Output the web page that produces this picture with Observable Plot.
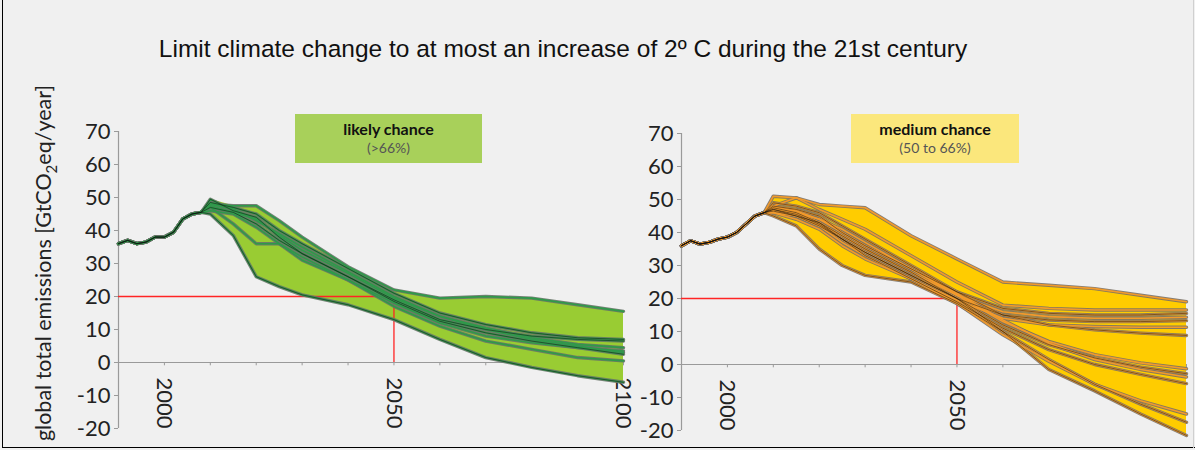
<!DOCTYPE html>
<html><head><meta charset="utf-8">
<script src="https://cdn.jsdelivr.net/npm/d3@7"></script>
<script src="https://cdn.jsdelivr.net/npm/@observablehq/plot@0.6"></script>
<style>
html,body{margin:0;padding:0;background:#f0f0f0;}
#wrap{position:relative;width:1195px;height:450px;background:#f0f0f0;overflow:hidden;}
#frameL{position:absolute;left:2px;top:0;width:1px;height:448px;background:#000;}
#frameB{position:absolute;left:2px;top:447px;width:1193px;height:1px;background:#000;}
#frameR{position:absolute;left:1193px;top:0;width:1px;height:448px;background:#d0d0d0;}
#title{position:absolute;left:0;top:35px;width:1126px;text-align:center;font-family:"Liberation Sans",Arial,sans-serif;font-size:24.5px;color:#111;}
#ytitle{position:absolute;left:45px;top:263px;transform:translate(-50%,-50%) rotate(-90deg);white-space:nowrap;font-family:Lato,sans-serif;font-size:21.5px;color:#222;}
#ytitle sub{font-size:15px;}
#left{position:absolute;left:0;top:0;}
#right{position:absolute;left:640px;top:0;}
.box{position:absolute;top:114px;height:49px;text-align:center;font-family:Lato,sans-serif;line-height:18px;padding-top:6px;box-sizing:border-box;}
.box b{font-size:16px;color:#111;}
.box span{font-size:14px;color:#555;}
#box1{left:295px;width:187px;background:#a8d05a;}
#box2{left:851px;width:168px;background:#fbe77c;}
</style></head><body>
<div id="wrap">
  <div id="left"></div>
  <div id="right"></div>
  <div id="title">Limit climate change to at most an increase of 2º C during the 21st century</div>
  <div id="ytitle">global total emissions [GtCO<sub>2</sub>eq/year]</div>
  <div class="box" id="box1"><b>likely chance</b><br><span>(&gt;66%)</span></div>
  <div class="box" id="box2"><b>medium chance</b><br><span>(50 to 66%)</span></div>
  <div id="frameL"></div><div id="frameB"></div><div id="frameR"></div>
</div>
<script>
// ---- data ----
const histYears = [1990,1992,1994,1996,1998,2000,2002,2004,2006,2008];
const histLikely = [36,37,36,36.5,38,38,39.5,43.5,45,45.5];
const histMedium = [36,37.5,36.5,37,38,38.6,40,42.5,45,46];
const pathYears = [2010,2015,2020,2025,2030,2040,2050,2060,2070,2080,2090,2100];
const likelyPaths = [
  [48,47.5,47.5,43,38,29,22,19.5,20,19.5,17.5,15.5],
  [45,38.5,26,23,20.5,17.5,13,7,1.5,-1.5,-4,-6],
  [47,42,36,36,31,25,18,12,8,6,4.5,3.5],
  [49.5,46,44,38,33,26,19,13,10,8,7,6.5],
  [48,46.5,43,39,35,27.5,20,14,10.5,7.5,5.5,4.5],
  [47,45.5,42,37,33,26,18.5,12.5,9,6.5,4.5,2.5],
  [46,45,41,36,32,25,17,11,6.5,4,1.5,0.5],
  [48.5,47,45,40,36,28.5,21,15,11.5,9,7.5,7],
  [47.5,45.5,43.5,38.5,34,27,19.5,14,10,7,5,3]
];
const mediumPaths = [
  [48,50.5,48.5,48,47.5,39,32,25,24,23,21,19],
  [45,42,35,30,27,25,18.5,10,-1.5,-8,-15,-21.5],
  [51,50.5,47,44,41,33,25,18,17,16.5,16.5,16.5],
  [49,48,46,42,38,30,22,17,15.5,15,15,15.5],
  [47.5,46.5,44,41,37,29,21,16,14.5,14,14,14.3],
  [47,45,43,39,35,28,20,15,13.5,13,13,13.3],
  [46,45,42,37,33,26,19.5,14,12,11.5,11.3,11.3],
  [48,47,45,40,36,29,22,15,12,10.5,9.5,8.8],
  [47,46,43,39,35,28,21,13,7,3,0.5,-1.3],
  [46.5,45,42,38,34,27,20,12,6,2,-0.8,-2.8],
  [48,46,44,40,36,29,21.5,13.5,6.5,1.5,-1.5,-3.8],
  [47,45.5,42.5,38,33,26,19,11,4.5,0,-3,-5.8],
  [46,44,41,36,32,26,18.5,9,1,-6,-11,-15],
  [47.5,46,43,38,34,27,20,10,1.5,-6,-12,-17.5]
];
const yTicks = [-20,-10,0,10,20,30,40,50,60,70];
const xDecades = [1990,2000,2010,2020,2030,2040,2050,2060,2070,2080,2090,2100];
const leftXLabels = [2000,2050,2100];
const rightXLabels = [2000,2050];
const xDomain = [1990,2100];
const yDomain = [-20,70];
const targetLevel = 20;
const targetYear = 2050;

function panel(paths, hist, cfg){
  const rows = [];
  paths.forEach((p,k)=>{
    hist.forEach((v,i)=>rows.push({s:k, year:histYears[i], value:v}));
    p.forEach((v,i)=>rows.push({s:k, year:pathYears[i], value:v}));
  });
  const allYears = histYears.concat(pathYears);
  const env = allYears.map(y=>{
    const vs = rows.filter(r=>r.year===y).map(r=>r.value);
    return {year:y, lo:d3.min(vs), hi:d3.max(vs)};
  });
  return Plot.plot({
    width: cfg.width, height: 450,
    marginLeft: cfg.ml, marginRight: cfg.mr, marginTop: cfg.mt, marginBottom: cfg.mb,
    x: {domain: xDomain, axis: null},
    y: {domain: yDomain},
    style: {background:"transparent", fontFamily:"Lato, sans-serif", color:"#222", overflow:"visible"},
    marks: [
      Plot.ruleY([0], {stroke:"#9a9a9a", strokeWidth:1.2}),
      Plot.ruleX(xDecades, {x:d=>d, y1:0, y2:-1, stroke:"#9a9a9a"}),
      Plot.ruleX([xDomain[0]], {y1:yDomain[0], y2:yDomain[1], stroke:"#9a9a9a", strokeWidth:1.2}),
      Plot.axisY({ticks:yTicks, tickSize:4, tickPadding:4, fontSize:22, stroke:"#9a9a9a", fill:"#222", label:null, tickFormat:d=>String(d)}),
      Plot.text(cfg.labels, {x:d=>d, y:0, text:d=>String(d), rotate:90, textAnchor:"start", lineAnchor:"middle", dy:15, fontSize:22, fill:"#222"}),
      Plot.areaY(env, {x:"year", y1:"lo", y2:"hi", fill:cfg.fill}),
      Plot.ruleY([targetLevel], {x1:xDomain[0], x2:targetYear, stroke:"#ff2424", strokeWidth:1.3}),
      Plot.ruleX([targetYear], {y1:0, y2:targetLevel, stroke:"#ff2424", strokeWidth:1.3}),
      Plot.line(rows, {x:"year", y:"value", z:"s", stroke:cfg.outer, strokeWidth:3.4, strokeOpacity:0.9}),
      Plot.line(rows, {x:"year", y:"value", z:"s", stroke:cfg.inner, strokeWidth:1.6}),
      Plot.line(rows.filter(r=>r.s%2===1), {x:"year", y:"value", z:"s", stroke:"#111", strokeWidth:0.7, strokeOpacity:0.75})
    ]
  });
}

document.getElementById("left").append(panel(likelyPaths, histLikely, {
  width:640, ml:118, mr:17, mt:131, mb:22, labels:leftXLabels,
  fill:"#99cc33", outer:"#687468", inner:"#2e9a4a"
}));
document.getElementById("right").append(panel(mediumPaths, histMedium, {
  width:555, ml:41, mr:9, mt:133, mb:20, labels:rightXLabels,
  fill:"#ffcc00", outer:"#7a7166", inner:"#f39a2a"
}));
</script>
</body></html>
